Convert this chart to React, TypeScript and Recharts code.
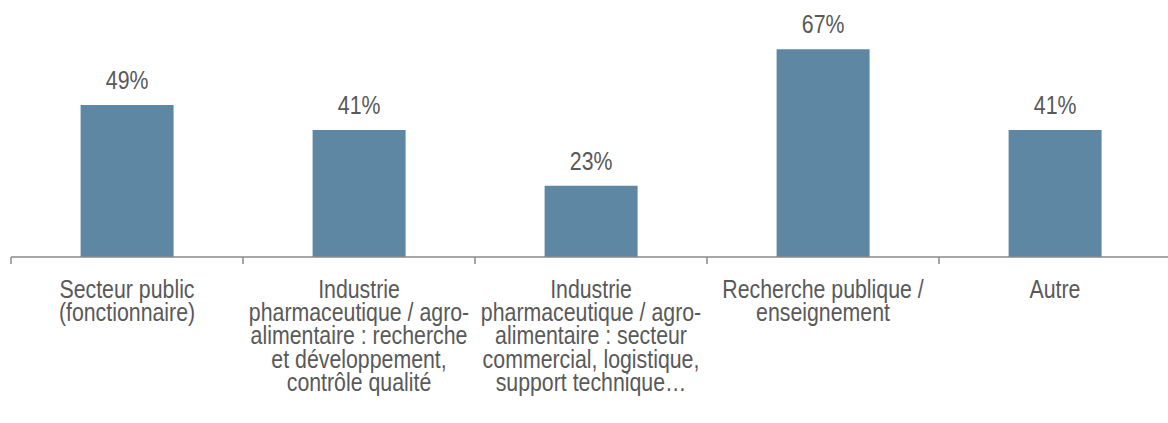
import React from 'react';
import { BarChart, Bar, XAxis, YAxis, LabelList } from 'recharts';

const categories: string[][] = [
  ['Secteur public', '(fonctionnaire)'],
  ['Industrie', 'pharmaceutique / agro-', 'alimentaire : recherche', 'et développement,', 'contrôle qualité'],
  ['Industrie', 'pharmaceutique / agro-', 'alimentaire : secteur', 'commercial, logistique,', 'support technique…'],
  ['Recherche publique /', 'enseignement'],
  ['Autre'],
];
const values: number[] = [49, 41, 23, 67, 41];

const data = categories.map((lines, i) => ({ name: lines.join(' '), lines, value: values[i] }));

const W = 1171;
const H = 423;
const M = { top: 9, right: 0, left: 11, bottom: 0 };
const BAND = (W - M.left - M.right) / categories.length;
const FONT = "'Liberation Sans', Arial, sans-serif";
const FS = 26;
const SX = 0.82;
const TEXT = '#595959';
const AXIS = '#8a8a8a';

const Tick = (props: any) => {
  const { x, y, payload, index } = props;
  const lines: string[] = categories[payload.index ?? index] || [];
  const half = BAND / 2;
  return (
    <g>
      <line x1={x - half} x2={x - half} y1={y} y2={y + 7} stroke={AXIS} strokeWidth={1.5} />
      {index === categories.length - 1 && (
        <line x1={x + half} x2={x + half} y1={y} y2={y + 7} stroke={AXIS} strokeWidth={1.5} />
      )}
      <g transform={`translate(${x},${y}) scale(${SX},1)`}>
        <text x={0} y={0} textAnchor="middle" fill={TEXT} fontSize={FS} fontFamily={FONT}>
          {lines.map((l, i) => (
            <tspan key={i} x={0} y={41 + i * 23.2}>
              {l}
            </tspan>
          ))}
        </text>
      </g>
    </g>
  );
};

const ValueLabel = (props: any) => {
  const { x, y, width, value } = props;
  return (
    <g transform={`translate(${x + width / 2},${y - 16}) scale(${SX},1)`}>
      <text x={0} y={0} textAnchor="middle" fill={TEXT} fontSize={FS} fontFamily={FONT}>
        {`${value}%`}
      </text>
    </g>
  );
};

export default function App() {
  return (
    <div style={{ position: 'fixed', left: 0, top: 0, width: 1168, height: 423, overflow: 'hidden', background: '#fff' }}>
      <BarChart width={W} height={H} data={data} margin={M} barCategoryGap="30%">
        <XAxis
          dataKey="name"
          interval={0}
          tickSize={0}
          tickMargin={0}
          tickLine={false}
          axisLine={{ stroke: AXIS, strokeWidth: 1.5 }}
          tick={<Tick />}
          height={H - M.top - M.bottom - 248}
        />
        <YAxis hide domain={[0, 80]} />
        <Bar dataKey="value" fill="#5E87A3" isAnimationActive={false}>
          <LabelList dataKey="value" content={<ValueLabel />} />
        </Bar>
      </BarChart>
    </div>
  );
}
